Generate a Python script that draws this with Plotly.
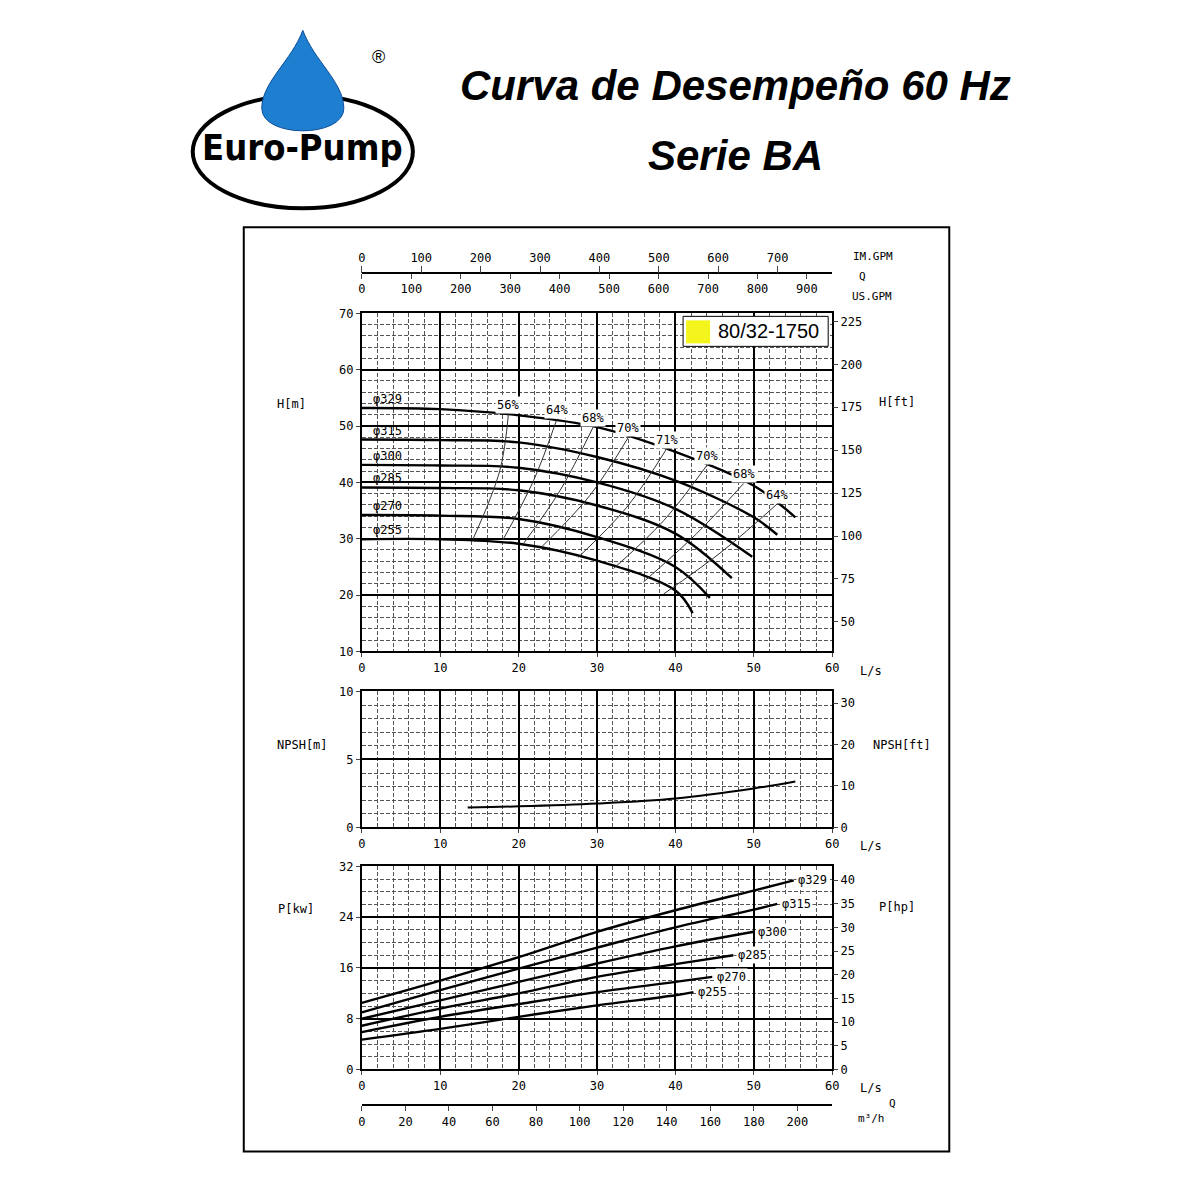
import plotly.graph_objects as go

# ---------------- data ----------------
diam_labels = ["φ329", "φ315", "φ300", "φ285", "φ270", "φ255"]
h_q = [
    [0, 10, 20, 30, 40, 50, 55.3],
    [0, 10, 20, 30, 40, 50, 53.0],
    [0, 10, 20, 30, 40, 49.8],
    [0, 10, 20, 30, 40, 47.2],
    [0, 10, 20, 30, 40, 44.4],
    [0, 10, 20, 30, 40, 42.2],
]
h_m = [
    [53.2, 53.0, 51.9, 49.8, 45.4, 39.4, 33.8],
    [47.6, 47.5, 47.1, 44.5, 40.3, 33.8, 30.7],
    [43.1, 43.0, 42.6, 40.0, 35.3, 26.8],
    [39.1, 39.0, 38.6, 35.9, 30.9, 23.0],
    [34.2, 34.1, 33.5, 30.3, 25.0, 19.5],
    [29.9, 29.9, 29.1, 26.1, 20.8, 16.8],
]
eff_labels = ["56%", "64%", "68%", "70%", "71%", "70%", "68%", "64%"]
eff_q = [
    [14.2, 17.6, 18.7], [18.0, 21.9, 24.9], [20.6, 25.3, 29.5], [22.9, 29.1, 34.0],
    [27.6, 33.8, 38.9], [32.1, 38.5, 44.0], [35.9, 42.7, 48.7], [38.5, 46.1, 53.0],
]
eff_h = [
    [30.0, 42.1, 52.2], [29.8, 40.3, 51.3], [29.1, 38.6, 49.8], [28.5, 37.7, 48.0],
    [26.7, 35.6, 46.0], [24.7, 33.2, 43.0], [22.3, 30.9, 39.8], [20.2, 27.9, 36.2],
]
npsh_q = [13.5, 20, 30, 40, 50, 55.3]
npsh_m = [1.47, 1.55, 1.76, 2.13, 2.87, 3.38]
p_q = [
    [0, 10, 20, 30, 40, 50, 55.1],
    [0, 10, 20, 30, 40, 50, 53.0],
    [0, 10, 20, 30, 40, 50],
    [0, 10, 20, 30, 40, 47.4],
    [0, 10, 20, 30, 40, 44.7],
    [0, 10, 20, 30, 40, 42.3],
]
p_kw = [
    [10.5, 14.0, 17.7, 21.7, 25.1, 28.2, 29.8],
    [9.0, 12.5, 15.9, 19.2, 22.4, 25.2, 26.1],
    [8.0, 10.9, 13.8, 16.7, 19.4, 21.7],
    [6.9, 9.6, 12.0, 14.6, 16.6, 18.0],
    [5.9, 8.3, 10.3, 12.2, 13.8, 14.6],
    [4.7, 6.4, 8.3, 10.1, 11.7, 12.2],
]
model = "80/32-1750"

# ---------------- helpers ----------------
W = 1184
def px(x): return ((x - 12.4) / 0.99) / W
def py(y): return 1 - ((y - 14.7) / 0.988) / W

FONT = "DejaVu Sans Mono"
fig = go.Figure()
lw = 2.4

for q, h, lab in zip(h_q, h_m, diam_labels):
    fig.add_trace(go.Scatter(x=q, y=h, mode="lines", line=dict(color="black", width=lw, shape="spline"),
                             xaxis="x", yaxis="y", showlegend=False))
    fig.add_annotation(x=1.2, y=h[0] + 1.6, text=lab, xref="x", yref="y", showarrow=False,
                       xanchor="left", yanchor="middle", font=dict(family=FONT, size=12, color="black"))
for q, h, lab in zip(eff_q, eff_h, eff_labels):
    fig.add_trace(go.Scatter(x=q, y=h, mode="lines", line=dict(color="#333", width=1, shape="spline"),
                             xaxis="x", yaxis="y", showlegend=False))
    fig.add_annotation(x=q[-1], y=h[-1] + 1.6, text=lab, xref="x", yref="y", showarrow=False,
                       xanchor="center", yanchor="middle",
                       font=dict(family=FONT, size=12, color="black"), bgcolor="white")

fig.add_trace(go.Scatter(x=npsh_q, y=npsh_m, mode="lines", line=dict(color="black", width=2, shape="spline"),
                         xaxis="x2", yaxis="y2", showlegend=False))

for q, p, lab in zip(p_q, p_kw, diam_labels):
    fig.add_trace(go.Scatter(x=q, y=p, mode="lines", line=dict(color="black", width=lw, shape="spline"),
                             xaxis="x3", yaxis="y3", showlegend=False))
    fig.add_annotation(x=q[-1] + 0.3, y=p[-1], text=lab, xref="x3", yref="y3", showarrow=False,
                       xanchor="left", yanchor="middle",
                       font=dict(family=FONT, size=12, color="black"), bgcolor="white")

dom_x = [px(362), px(832)]
tickf = dict(family=FONT, size=12, color="black")
def xax(anchor):
    return dict(domain=dom_x, anchor=anchor, range=[0, 60], dtick=10, showgrid=True,
                gridcolor="black", gridwidth=2, zeroline=False, ticks="outside", ticklen=4,
                tickfont=tickf, showline=True, linecolor="black", linewidth=2, mirror=True,
                minor=dict(dtick=2, showgrid=True, gridcolor="#555", griddash="4px,2px", gridwidth=0.8))
def yax(anchor, dom, rng, dt, mdt):
    return dict(domain=dom, anchor=anchor, range=rng, dtick=dt, showgrid=True,
                gridcolor="black", gridwidth=2, zeroline=False, ticks="outside", ticklen=4,
                tickfont=tickf, showline=True, linecolor="black", linewidth=2, mirror=True,
                minor=dict(dtick=mdt, showgrid=True, gridcolor="#555", griddash="4px,2px", gridwidth=0.8))
def rax(over, anchor, rng, tv):
    return dict(overlaying=over, anchor=anchor, side="right", range=rng, tickvals=tv,
                showgrid=False, zeroline=False, ticks="outside", ticklen=5, tickfont=tickf)

lay = dict(
    width=W, height=W, margin=dict(l=0, r=0, t=0, b=0),
    paper_bgcolor="white", plot_bgcolor="white", showlegend=False,
    xaxis=xax("y"), xaxis2=xax("y2"), xaxis3=xax("y3"),
    yaxis=yax("x", [py(651), py(313)], [10, 70], 10, 2),
    yaxis2=yax("x2", [py(827), py(691)], [0, 10], 5, 1),
    yaxis3=yax("x3", [py(1069), py(866)], [0, 32], 8, 2),
    yaxis4=rax("y", "x", [10 * 3.281, 70 * 3.281], [50, 75, 100, 125, 150, 175, 200, 225]),
    yaxis5=rax("y2", "x2", [0, 10 * 3.281], [0, 10, 20, 30]),
    yaxis6=rax("y3", "x3", [0, 32 / 0.746], [0, 5, 10, 15, 20, 25, 30, 35, 40]),
    xaxis4=dict(overlaying="x", anchor="free", position=py(273), side="bottom", range=[0, 60 * 15.85],
                tickvals=list(range(0, 1000, 100)), showgrid=False, zeroline=False, ticks="outside",
                ticklen=5, tickfont=tickf, showline=True, linecolor="black", linewidth=1.5),
    xaxis5=dict(overlaying="x", anchor="free", position=py(273), side="top", range=[0, 60 * 13.2],
                tickvals=list(range(0, 800, 100)), showgrid=False, zeroline=False, ticks="outside",
                ticklen=7, tickfont=tickf, showline=False),
    xaxis6=dict(overlaying="x", anchor="free", position=py(1105), side="bottom", range=[0, 216],
                tickvals=list(range(0, 220, 20)), showgrid=False, zeroline=False, ticks="outside",
                ticklen=5, tickfont=tickf, showline=True, linecolor="black", linewidth=1.5),
)
fig.update_layout(**lay)
for xa, ya in [("x", "y4"), ("x2", "y5"), ("x3", "y6"), ("x4", "y"), ("x5", "y"), ("x6", "y")]:
    fig.add_trace(go.Scatter(x=[None], y=[None], xaxis=xa, yaxis=ya, showlegend=False))

def txt(x, y, s, size=12, fam=FONT, **kw):
    fig.add_annotation(x=px(x), y=py(y), xref="paper", yref="paper", text=s, showarrow=False,
                       xanchor="center", yanchor="middle",
                       font=dict(family=fam, size=size, color="black"), **kw)

txt(292, 404, "H[m]"); txt(897, 402, "H[ft]")
txt(303, 745, "NPSH[m]"); txt(902, 745, "NPSH[ft]")
txt(296, 909, "P[kw]"); txt(897, 907, "P[hp]")
for yy in (671, 846, 1088):
    txt(871, yy, "L/s")
txt(873, 256, "IM.GPM", 11); txt(862, 276, "Q", 11); txt(872, 296, "US.GPM", 11)
txt(892, 1103, "Q", 11); txt(871, 1118, "m³/h", 11)

fig.add_shape(type="rect", xref="paper", yref="paper", x0=px(683), x1=px(828), y0=py(346), y1=py(316),
              line=dict(color="black", width=1), fillcolor="white")
fig.add_shape(type="rect", xref="paper", yref="paper", x0=px(686), x1=px(710), y0=py(343), y1=py(320),
              line=dict(width=0), fillcolor="#f5f51e")
txt(768, 331, model, 20, "Liberation Sans")

fig.add_shape(type="rect", xref="paper", yref="paper", x0=px(244), x1=px(949), y0=py(1151), y1=py(227),
              line=dict(color="black", width=2))

txt(735, 85, "<b><i>Curva de Desempeño 60 Hz</i></b>", 42, "Liberation Sans")
txt(735, 155, "<b><i>Serie BA</i></b>", 42, "Liberation Sans")

fig.add_shape(type="circle", xref="paper", yref="paper", x0=px(193), x1=px(413), y0=py(208), y1=py(95),
              line=dict(color="black", width=4))
drop = "M {},{} C {},{} {},{} {},{} C {},{} {},{} {},{} C {},{} {},{} {},{} Z".format(
    px(303), py(30), px(292), py(60), px(262), py(82), px(262), py(108),
    px(262), py(138), px(344), py(138), px(344), py(108),
    px(344), py(82), px(314), py(60), px(303), py(30))
fig.add_shape(type="path", xref="paper", yref="paper", path=drop, fillcolor="#1e7fd0",
              line=dict(color="#0d4f9a", width=1))
txt(303, 147, "<b>Euro-Pump</b>", 36, "DejaVu Sans Condensed")
txt(379, 57, "®", 18, "Liberation Sans")

fig.write_html("out.html")
